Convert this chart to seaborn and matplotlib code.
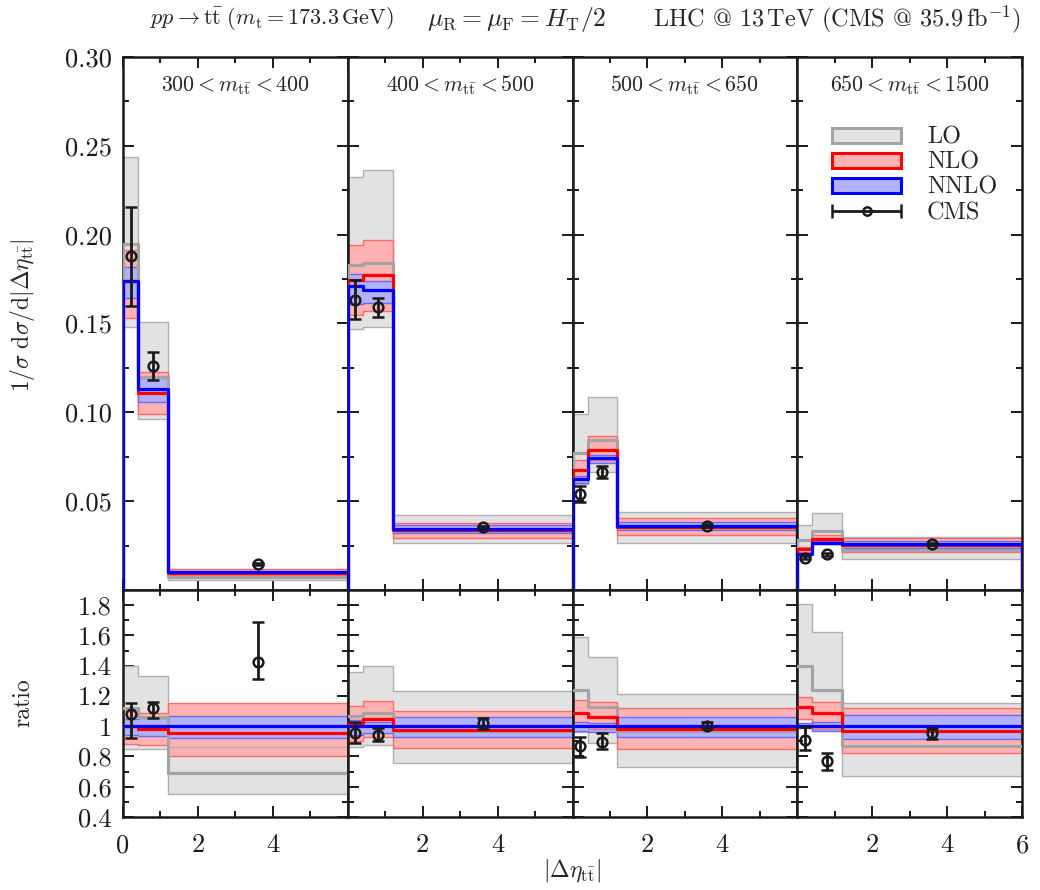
import numpy as np
import matplotlib
matplotlib.use("Agg")
import matplotlib.pyplot as plt
import seaborn as sns
from matplotlib.patches import Patch
from matplotlib.ticker import MultipleLocator, FixedLocator
from matplotlib.legend_handler import HandlerErrorbar
from matplotlib.container import ErrorbarContainer

sns.set_theme(style="ticks")
plt.rcParams['font.family'] = ['cmr10', 'DejaVu Serif']
plt.rcParams['mathtext.fontset'] = 'cm'
plt.rcParams['axes.formatter.use_mathtext'] = True
plt.rcParams['axes.unicode_minus'] = False

# ---------------- data ----------------
mass_bins = [r"$300 < m_{\mathrm{t\bar{t}}} < 400$",
             r"$400 < m_{\mathrm{t\bar{t}}} < 500$",
             r"$500 < m_{\mathrm{t\bar{t}}} < 650$",
             r"$650 < m_{\mathrm{t\bar{t}}} < 1500$"]
eta_edges = [0.0, 0.4, 1.2, 6.0]
eta_points = [0.2, 0.8, 3.6]

# NNLO central prediction (1/sigma dsigma/d|deta|)
nnlo_central = [[0.1740, 0.1132, 0.0103],
                [0.1711, 0.1689, 0.0345],
                [0.0623, 0.0745, 0.0362],
                [0.0203, 0.0266, 0.0259]]

# predictions relative to NNLO central
lo_ratio = [[1.12, 1.06, 0.69], [1.07, 1.09, 0.97], [1.24, 1.13, 0.97], [1.40, 1.24, 0.87]]
lo_ratio_up = [[1.40, 1.33, 0.86], [1.36, 1.40, 1.23], [1.59, 1.46, 1.21], [1.81, 1.62, 1.155]]
lo_ratio_down = [[0.85, 0.85, 0.55], [0.86, 0.875, 0.76], [0.96, 0.89, 0.73], [1.05, 1.00, 0.67]]

nlo_ratio = [[1.00, 0.98, 0.956], [1.02, 1.05, 0.975], [1.085, 1.06, 0.98], [1.13, 1.085, 0.968]]
nlo_ratio_up = [[1.10, 1.085, 1.155], [1.135, 1.167, 1.10], [1.17, 1.16, 1.12], [1.19, 1.16, 1.12]]
nlo_ratio_down = [[0.88, 0.875, 0.80], [0.905, 0.93, 0.855], [1.00, 0.98, 0.85], [1.05, 0.98, 0.825]]

nnlo_ratio_up = [[1.045, 1.055, 1.065], [1.04, 1.03, 1.06], [1.03, 1.02, 1.06], [1.02, 1.03, 1.074]]
nnlo_ratio_down = [[0.945, 0.935, 0.925], [0.94, 0.955, 0.93], [0.97, 0.96, 0.93], [0.99, 0.97, 0.913]]

# CMS data
cms_value = [[0.1877, 0.1262, 0.0145], [0.1634, 0.1590, 0.0355], [0.0540, 0.0663, 0.0362], [0.0182, 0.0201, 0.0259]]
cms_error = [[0.0280, 0.0078, 0.0006], [0.0110, 0.0055, 0.0007], [0.0047, 0.0035, 0.0008], [0.0008, 0.0008, 0.0007]]
cms_ratio = [[1.080, 1.122, 1.426], [0.957, 0.942, 1.019], [0.871, 0.894, 1.003], [0.909, 0.770, 0.953]]
cms_ratio_hi = [[1.155, 1.162, 1.687], [1.030, 0.990, 1.056], [0.931, 0.957, 1.030], [0.997, 0.825, 0.990]]
cms_ratio_lo = [[0.925, 1.052, 1.315], [0.891, 0.902, 0.980], [0.794, 0.847, 0.990], [0.843, 0.710, 0.913]]

top_yticks = [0.05, 0.10, 0.15, 0.20, 0.25, 0.30]
top_yticklabels = ["0.05", "0.10", "0.15", "0.20", "0.25", "0.30"]
ratio_yticks = [0.4, 0.6, 0.8, 1.0, 1.2, 1.4, 1.6, 1.8]
ratio_yticklabels = ["0.4", "0.6", "0.8", "1", "1.2", "1.4", "1.6", "1.8"]

# ---------------- styles ----------------
LO_FILL, LO_EDGE, LO_LINE = "#e2e2e2", "#b0b0b0", "#a4a4a4"
NLO_FILL, NLO_EDGE, NLO_LINE = "#ffb2b2", "#ff6a6a", "#ff0000"
NNLO_FILL, NNLO_EDGE, NNLO_LINE = "#b2b2fa", "#6a6aff", "#0000ff"

TICK_FS = 19

fig = plt.figure(figsize=(10.4, 8.9), dpi=100)
gs = fig.add_gridspec(2, 4, left=0.1183, right=0.9827, top=0.936, bottom=0.082,
                      height_ratios=[533, 227], wspace=0, hspace=0)

edges = np.array(eta_edges)


def ext(a):
    a = np.asarray(a, dtype=float)
    return np.append(a, a[-1])


for i in range(4):
    axt = fig.add_subplot(gs[0, i])
    axr = fig.add_subplot(gs[1, i])
    c = np.array(nnlo_central[i])

    bands = [
        (np.array(lo_ratio_down[i]), np.array(lo_ratio_up[i]), LO_FILL, LO_EDGE),
        (np.array(nlo_ratio_down[i]), np.array(nlo_ratio_up[i]), NLO_FILL, NLO_EDGE),
        (np.array(nnlo_ratio_down[i]), np.array(nnlo_ratio_up[i]), NNLO_FILL, NNLO_EDGE),
    ]
    for k, (dn, up, fc, ec) in enumerate(bands):
        for ax, scale in ((axt, c), (axr, np.ones(3))):
            ax.fill_between(edges, ext(scale * dn), ext(scale * up), step='post',
                            facecolor=fc, edgecolor='none', linewidth=0, zorder=1 + 0.1 * k)
    for k, (dn, up, fc, ec) in enumerate(bands):
        for ax, scale in ((axt, c), (axr, np.ones(3))):
            ax.fill_between(edges, ext(scale * dn), ext(scale * up), step='post',
                            facecolor='none', edgecolor=ec, linewidth=1.0, zorder=2 + 0.1 * k)

    centrals = [
        (np.array(lo_ratio[i]), LO_LINE),
        (np.array(nlo_ratio[i]), NLO_LINE),
        (np.ones(3), NNLO_LINE),
    ]
    for r, col in centrals:
        v = c * r
        xs = np.r_[edges[0], edges, edges[-1]]
        ys = np.r_[0.0, v, v[-1], 0.0]
        sns.lineplot(x=xs, y=ys, sort=False, estimator=None, drawstyle='steps-post',
                     color=col, linewidth=2.3, ax=axt, zorder=3)
        sns.lineplot(x=edges, y=ext(r), sort=False, estimator=None, drawstyle='steps-post',
                     color=col, linewidth=2.3, ax=axr, zorder=3)

    # CMS data
    axt.errorbar(eta_points, cms_value[i], yerr=cms_error[i], fmt='o', ms=7,
                 mfc='none', mec='k', mew=1.8, color='k', elinewidth=2,
                 capsize=4, capthick=2, zorder=5)
    rv = np.array(cms_ratio[i])
    ryerr = np.vstack([rv - np.array(cms_ratio_lo[i]), np.array(cms_ratio_hi[i]) - rv])
    axr.errorbar(eta_points, rv, yerr=ryerr, fmt='o', ms=7,
                 mfc='none', mec='k', mew=1.8, color='k', elinewidth=2,
                 capsize=4, capthick=2, zorder=5)

    # axes formatting
    for ax in (axt, axr):
        ax.set_xlim(0, 6)
        ax.set_xlabel("")
        ax.set_ylabel("")
        ax.xaxis.set_major_locator(MultipleLocator(2))
        ax.xaxis.set_minor_locator(MultipleLocator(1))
        ax.tick_params(which='both', direction='in', top=True, right=True,
                       labelsize=TICK_FS, width=1.4, colors='k', pad=8)
        ax.tick_params(axis='x', which='both', pad=12)
        ax.tick_params(which='major', length=8)
        ax.tick_params(which='minor', length=4.5)
        for s in ax.spines.values():
            s.set_linewidth(1.8)
            s.set_color('k')

    axt.set_ylim(0, 0.30)
    axt.yaxis.set_major_locator(FixedLocator(top_yticks))
    axt.yaxis.set_minor_locator(MultipleLocator(0.025))
    axt.set_xticklabels([])
    axr.set_ylim(0.4, 1.9)
    axr.yaxis.set_major_locator(FixedLocator(ratio_yticks))
    axr.yaxis.set_minor_locator(MultipleLocator(0.1))

    if i == 0:
        axt.set_yticklabels(top_yticklabels)
        axr.set_yticklabels(ratio_yticklabels)
        axr.set_xticks([0, 2, 4])
        axr.set_xticklabels(["0", "2", "4"])
    else:
        axt.set_yticklabels([])
        axr.set_yticklabels([])
        if i == 3:
            axr.set_xticks([2, 4, 6])
            axr.set_xticklabels(["2", "4", "6"])
        else:
            axr.set_xticks([2, 4])
            axr.set_xticklabels(["2", "4"])
    axr.set_xlim(0, 6)

    axt.text(0.5, 0.947, mass_bins[i], transform=axt.transAxes, ha='center',
             va='center', fontsize=15.8)

    if i == 3:
        cms_h = axt.errorbar([np.nan], [np.nan], xerr=[1.0], fmt='o', ms=6, mfc='none',
                             mec='k', mew=1.8, color='k', elinewidth=2, capsize=5, capthick=2)
        handles = [Patch(facecolor=LO_FILL, edgecolor=LO_LINE, linewidth=2.2),
                   Patch(facecolor=NLO_FILL, edgecolor=NLO_LINE, linewidth=2.2),
                   Patch(facecolor=NNLO_FILL, edgecolor=NNLO_LINE, linewidth=2.2),
                   cms_h]
        axt.legend(handles, ["LO", "NLO", "NNLO", "CMS"], loc='upper left',
                   bbox_to_anchor=(0.155, 0.869), frameon=False, fontsize=17.5,
                   handlelength=2.85, handleheight=0.6, labelspacing=0.12,
                   handletextpad=1.05, borderpad=0, borderaxespad=0,
                   handler_map={ErrorbarContainer: HandlerErrorbar(xerr_size=1.42)})

fig.text(0.144, 0.978, r"$pp \rightarrow \mathrm{t\bar{t}}\ (m_{\mathrm{t}} = 173.3\,\mathrm{GeV})$",
         ha='left', va='center', fontsize=16)
fig.text(0.497, 0.978, r"$\mu_{\mathrm{R}} = \mu_{\mathrm{F}} = H_{\mathrm{T}}/2$",
         ha='center', va='center', fontsize=18.5)
fig.text(0.981, 0.978, r"LHC @ 13$\,$TeV (CMS @ 35.9$\,$fb$^{-1}$)",
         ha='right', va='center', fontsize=17.5)

fig.text(0.022, 0.646, r"$1/\sigma\ \mathrm{d}\sigma/\mathrm{d}|\Delta\eta_{\mathrm{t\bar{t}}}|$",
         rotation=90, ha='center', va='center', fontsize=17)
fig.text(0.022, 0.21, "ratio", rotation=90, ha='center', va='center', fontsize=17)
fig.text(0.55, 0.022, r"$|\Delta\eta_{\mathrm{t\bar{t}}}|$", ha='center', va='center', fontsize=17)

fig.savefig("out.png", dpi=100)
